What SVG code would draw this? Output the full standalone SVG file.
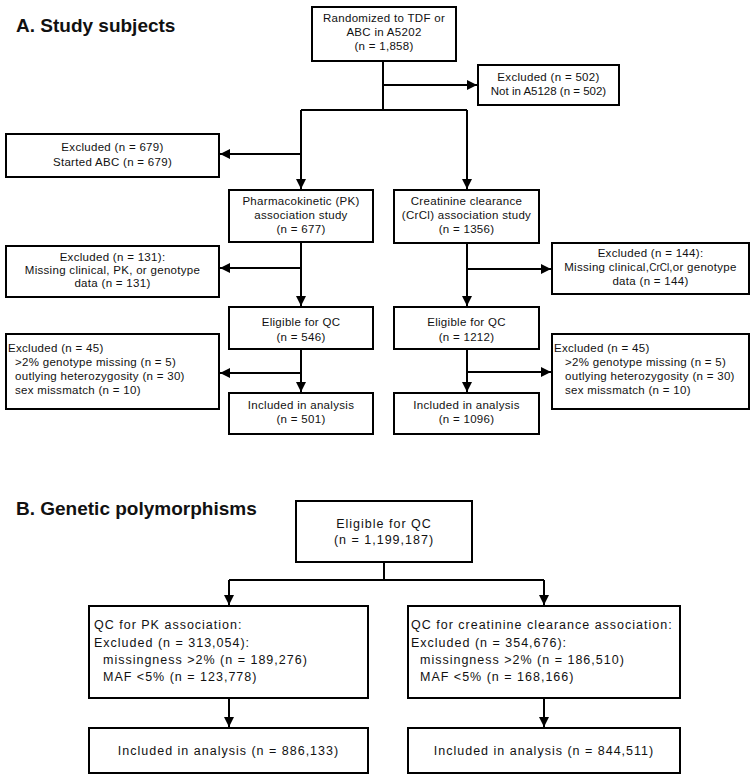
<svg xmlns="http://www.w3.org/2000/svg" width="752" height="775" viewBox="0 0 752 775">
<defs>
<marker id="ah" markerUnits="userSpaceOnUse" markerWidth="11" markerHeight="11" refX="10" refY="5" orient="auto">
<path d="M0,0 L10,5 L0,10 Z" fill="#000"/>
</marker>
<style>
.box{fill:#fff;stroke:#000;stroke-width:2}
.ln{fill:none;stroke:#000;stroke-width:2}
.ar{fill:none;stroke:#000;stroke-width:2;marker-end:url(#ah)}
.t{font-family:"Liberation Sans",Arial,sans-serif;font-size:11.5px;letter-spacing:0.3px;fill:#111}
.c{text-anchor:middle}
.tb{font-family:"Liberation Sans",Arial,sans-serif;font-size:12.5px;letter-spacing:1px;fill:#111}
.h{font-family:"Liberation Sans",Arial,sans-serif;font-size:19px;font-weight:bold;fill:#111}
</style>
</defs>
<rect width="752" height="775" fill="#fff"/>
<text class="h" x="16" y="32">A. Study subjects</text>
<text class="h" x="16" y="515">B. Genetic polymorphisms</text>

<g id="connectors">
<path class="ln" d="M383,61 V110 M301,110 H467"/>
<path class="ar" d="M383,85 H477"/>
<path class="ar" d="M301,110 V189"/>
<path class="ar" d="M301,154 H220"/>
<path class="ar" d="M467,110 V189"/>
<path class="ar" d="M301,242 V306"/>
<path class="ar" d="M301,268 H220"/>
<path class="ar" d="M467,243 V306"/>
<path class="ar" d="M467,269 H551"/>
<path class="ar" d="M301,349 V392"/>
<path class="ar" d="M301,373 H220"/>
<path class="ar" d="M467,349 V392"/>
<path class="ar" d="M467,372 H551"/>
<path class="ln" d="M384,562 V580 M229,580 H544"/>
<path class="ar" d="M229,580 V605"/>
<path class="ar" d="M544,580 V605"/>
<path class="ar" d="M229,698 V727"/>
<path class="ar" d="M544,698 V727"/>
</g>

<g id="n_rand">
<rect class="box" x="312" y="7" width="144" height="54"/>
<text class="t c" x="384" y="22">Randomized to TDF or</text>
<text class="t c" x="384" y="36">ABC in A5202</text>
<text class="t c" x="384" y="50">(n = 1,858)</text>
</g>
<g id="n_ex502">
<rect class="box" x="478" y="65" width="141" height="40"/>
<text class="t c" x="548.5" y="81">Excluded (n = 502)</text>
<text class="t c" x="548.5" y="95" style="letter-spacing:0">Not in A5128 (n = 502)</text>
</g>
<g id="n_ex679">
<rect class="box" x="6" y="134" width="213" height="43"/>
<text class="t c" x="112.5" y="151">Excluded (n = 679)</text>
<text class="t c" x="112.5" y="166">Started ABC (n = 679)</text>
</g>
<g id="n_pk">
<rect class="box" x="229" y="190" width="144" height="52"/>
<text class="t c" x="301" y="205">Pharmacokinetic (PK)</text>
<text class="t c" x="301" y="219">association study</text>
<text class="t c" x="301" y="233">(n = 677)</text>
</g>
<g id="n_crcl">
<rect class="box" x="394" y="190" width="145" height="53"/>
<text class="t c" x="466.5" y="205">Creatinine clearance</text>
<text class="t c" x="466.5" y="219">(CrCl) association study</text>
<text class="t c" x="466.5" y="233">(n = 1356)</text>
</g>
<g id="n_ex131">
<rect class="box" x="6" y="246" width="213" height="51"/>
<text class="t c" x="112.5" y="261">Excluded (n = 131):</text>
<text class="t c" x="112.5" y="274">Missing clinical, PK, or genotype</text>
<text class="t c" x="112.5" y="287">data (n = 131)</text>
</g>
<g id="n_ex144">
<rect class="box" x="552" y="243" width="197" height="51"/>
<text class="t c" x="650.5" y="257">Excluded (n = 144):</text>
<text class="t c" x="650.5" y="271">Missing clinical,<tspan style="font-size:10px;letter-spacing:0">CrCl</tspan>,or genotype</text>
<text class="t c" x="650.5" y="285">data (n = 144)</text>
</g>
<g id="n_elig_pk">
<rect class="box" x="229" y="307" width="144" height="42"/>
<text class="t c" x="301" y="326">Eligible for QC</text>
<text class="t c" x="301" y="341">(n = 546)</text>
</g>
<g id="n_elig_cr">
<rect class="box" x="394" y="307" width="145" height="42"/>
<text class="t c" x="466.5" y="326">Eligible for QC</text>
<text class="t c" x="466.5" y="341">(n = 1212)</text>
</g>
<g id="n_ex45_pk">
<rect class="box" x="6" y="334" width="213" height="75"/>
<text class="t" x="8" y="352">Excluded (n = 45)</text>
<text class="t" x="15" y="366">&gt;2% genotype missing (n = 5)</text>
<text class="t" x="15" y="380">outlying heterozygosity (n = 30)</text>
<text class="t" x="15" y="394">sex missmatch (n = 10)</text>
</g>
<g id="n_ex45_cr">
<rect class="box" x="552" y="334" width="197" height="75"/>
<text class="t" x="554" y="352">Excluded (n = 45)</text>
<text class="t" x="565" y="366">&gt;2% genotype missing (n = 5)</text>
<text class="t" x="565" y="380">outlying heterozygosity (n = 30)</text>
<text class="t" x="565" y="394">sex missmatch (n = 10)</text>
</g>
<g id="n_inc_pk">
<rect class="box" x="229" y="393" width="144" height="41"/>
<text class="t c" x="301" y="409">Included in analysis</text>
<text class="t c" x="301" y="423">(n = 501)</text>
</g>
<g id="n_inc_cr">
<rect class="box" x="394" y="393" width="145" height="41"/>
<text class="t c" x="466.5" y="409">Included in analysis</text>
<text class="t c" x="466.5" y="423">(n = 1096)</text>
</g>

<g id="n_elig_b">
<rect class="box" x="296" y="501" width="176" height="61"/>
<text class="tb c" x="384" y="528">Eligible for QC</text>
<text class="tb c" x="384" y="544">(n = 1,199,187)</text>
</g>
<g id="n_qc_pk">
<rect class="box" x="89" y="606" width="279" height="92"/>
<text class="tb" x="94" y="629">QC for PK association:</text>
<text class="tb" x="94" y="647">Excluded (n = 313,054):</text>
<text class="tb" x="103" y="664">missingness &gt;2% (n = 189,276)</text>
<text class="tb" x="103" y="681">MAF &lt;5% (n = 123,778)</text>
</g>
<g id="n_qc_cr">
<rect class="box" x="408" y="606" width="272" height="92"/>
<text class="tb" x="411" y="629">QC for creatinine clearance association:</text>
<text class="tb" x="411" y="647">Excluded (n = 354,676):</text>
<text class="tb" x="420" y="664">missingness &gt;2% (n = 186,510)</text>
<text class="tb" x="420" y="681">MAF &lt;5% (n = 168,166)</text>
</g>
<g id="n_inc_b_pk">
<rect class="box" x="89" y="728" width="279" height="45"/>
<text class="tb c" x="228.5" y="755">Included in analysis (n = 886,133)</text>
</g>
<g id="n_inc_b_cr">
<rect class="box" x="408" y="728" width="272" height="45"/>
<text class="tb c" x="544" y="755">Included in analysis (n = 844,511)</text>
</g>
</svg>
